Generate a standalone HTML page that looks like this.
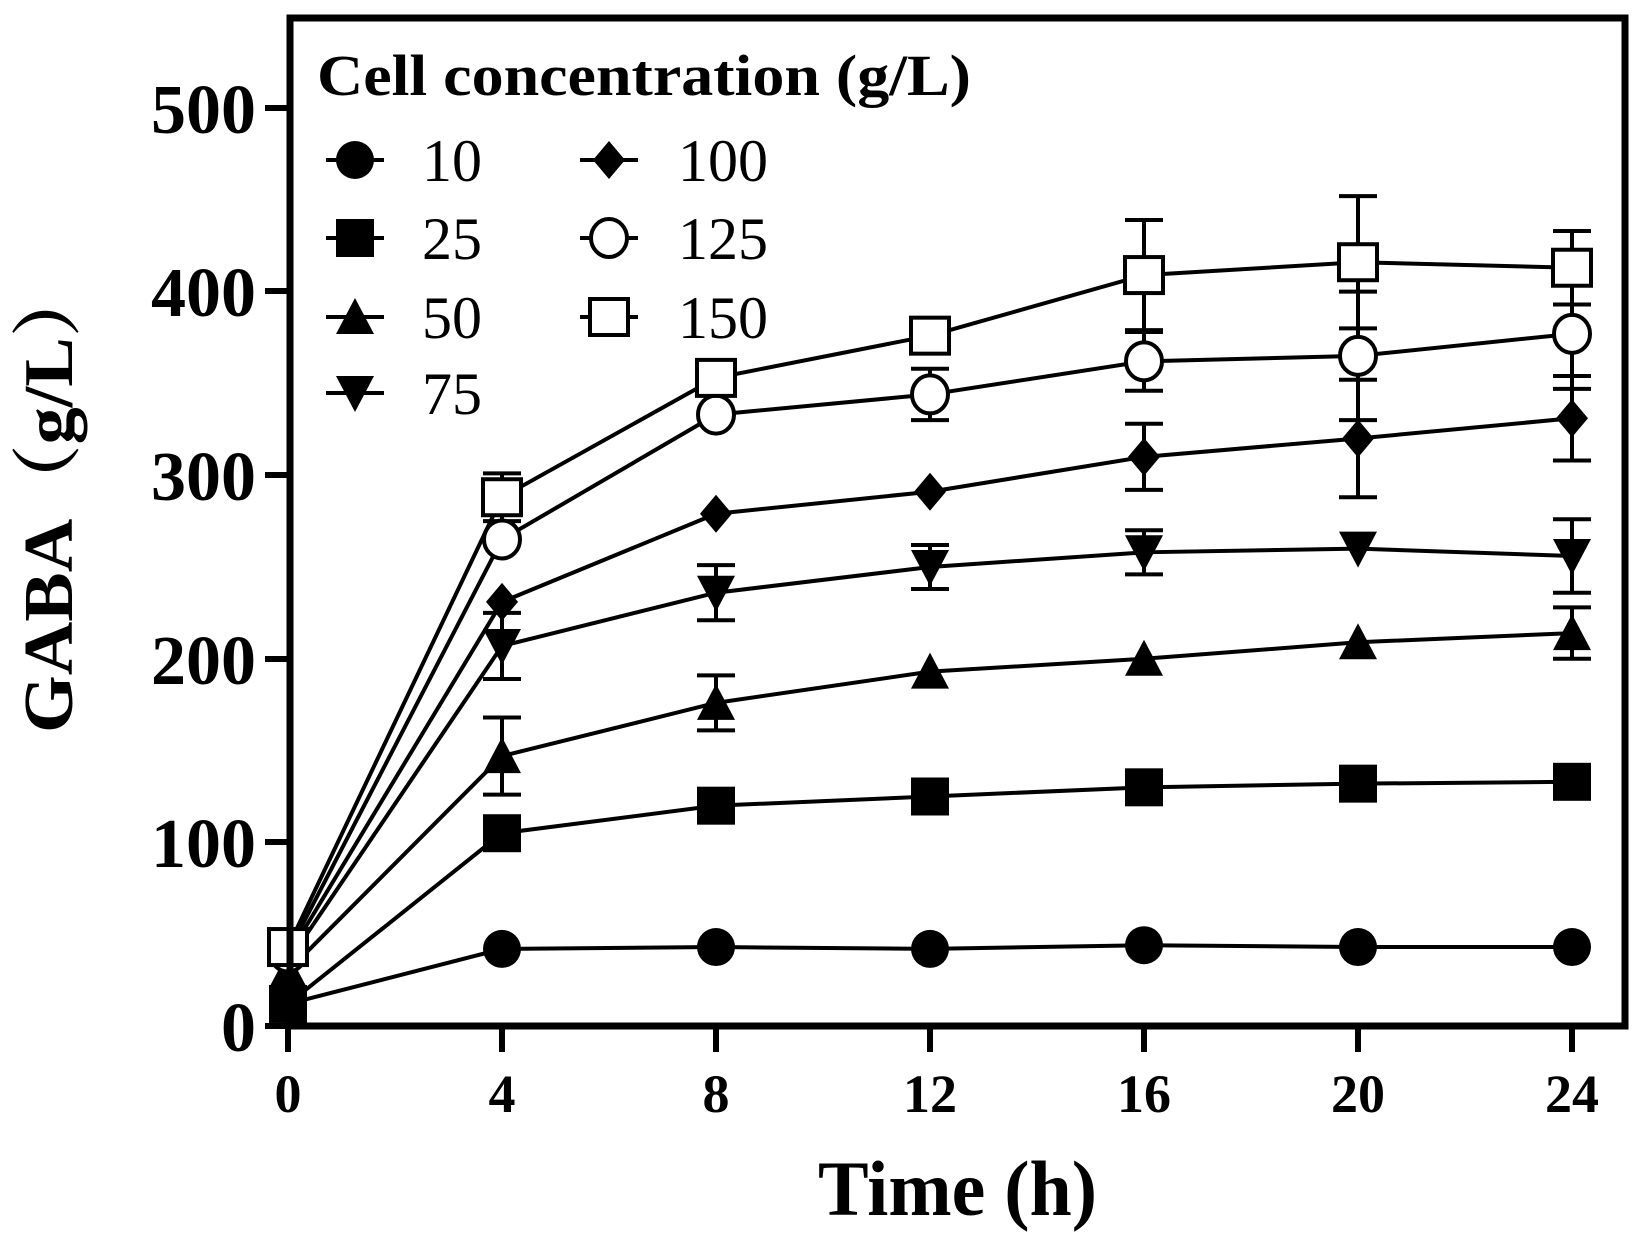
<!DOCTYPE html>
<html><head><meta charset="utf-8"><style>html,body{margin:0;padding:0;background:#fff}svg{display:block}</style></head>
<body>
<svg id="s" width="1642" height="1242" viewBox="0 0 1642 1242" xmlns="http://www.w3.org/2000/svg" font-family="Liberation Serif, serif">
<rect x="0" y="0" width="1642" height="1242" fill="#fff"/>
<g id="data"></g>
<rect x="290" y="18" width="1335" height="1008" fill="none" stroke="#000" stroke-width="7"/>
<g stroke="#000" stroke-width="6">
<line x1="265" y1="1026" x2="290" y2="1026"/><line x1="265" y1="842" x2="290" y2="842"/><line x1="265" y1="659" x2="290" y2="659"/><line x1="265" y1="475" x2="290" y2="475"/><line x1="265" y1="291" x2="290" y2="291"/><line x1="265" y1="108" x2="290" y2="108"/>
<line x1="288" y1="1026" x2="288" y2="1052"/><line x1="502" y1="1026" x2="502" y2="1052"/><line x1="716" y1="1026" x2="716" y2="1052"/><line x1="930" y1="1026" x2="930" y2="1052"/><line x1="1144" y1="1026" x2="1144" y2="1052"/><line x1="1358" y1="1026" x2="1358" y2="1052"/><line x1="1572" y1="1026" x2="1572" y2="1052"/>
</g>
<g font-weight="bold" font-size="70" text-anchor="end">
<text x="256" y="1051">0</text><text x="256" y="867">100</text><text x="256" y="684">200</text><text x="256" y="500">300</text><text x="256" y="316">400</text><text x="256" y="133">500</text>
</g>
<g font-weight="bold" font-size="54" text-anchor="middle">
<text x="288" y="1112">0</text><text x="502" y="1112">4</text><text x="716" y="1112">8</text><text x="930" y="1112">12</text><text x="1144" y="1112">16</text><text x="1358" y="1112">20</text><text x="1572" y="1112">24</text>
</g>
<text x="818" y="1215" font-weight="bold" font-size="78" textLength="279" lengthAdjust="spacingAndGlyphs">Time (h)</text>
<text transform="translate(72,733) rotate(-90)" font-weight="bold" font-size="70" font-family="Liberation Serif, Noto Serif CJK SC, serif" textLength="470" lengthAdjust="spacingAndGlyphs">GABA（g/L）</text>
<text x="317" y="95" font-weight="bold" font-size="58" textLength="654" lengthAdjust="spacingAndGlyphs">Cell concentration (g/L)</text>
<g id="leg"></g>
</svg>
<script>
const NS="http://www.w3.org/2000/svg";
function el(p,t,a){const e=document.createElementNS(NS,t);for(const k in a)e.setAttribute(k,a[k]);p.appendChild(e);return e;}
const X=t=>288+t*53.5, Y=v=>1026-v*1.836;
function marker(g,type,x,y){
 const r=19;
 if(type=='circle')el(g,'circle',{cx:x,cy:y,r:r,fill:'#000'});
 if(type=='square')el(g,'rect',{x:x-r,y:y-r,width:2*r,height:2*r,fill:'#000'});
 if(type=='up')el(g,'polygon',{points:`${x},${y-r} ${x+r},${y+r-2} ${x-r},${y+r-2}`,fill:'#000'});
 if(type=='down')el(g,'polygon',{points:`${x},${y+r} ${x+r},${y-r+2} ${x-r},${y-r+2}`,fill:'#000'});
 if(type=='diamond')el(g,'polygon',{points:`${x},${y-19} ${x+16},${y} ${x},${y+19} ${x-16},${y}`,fill:'#000'});
 if(type=='ocircle')el(g,'ellipse',{cx:x,cy:y,rx:18,ry:19,fill:'#fff',stroke:'#000','stroke-width':4});
 if(type=='osquare')el(g,'rect',{x:x-19,y:y-18,width:38,height:36,fill:'#fff',stroke:'#000','stroke-width':4});
}
const T=[0,4,8,12,16,20,24];
const S=[
 ['circle',[12,42,43,42,44,43,43],[0,0,0,0,0,0,0]],
 ['square',[12,105,120,125,130,132,133],[0,0,0,0,0,0,0]],
 ['up',[30,147,176,193,200,209,214],[0,21,15,0,0,0,14]],
 ['down',[35,207,236,250,258,260,256],[0,18,15,12,12,0,20]],
 ['diamond',[38,231,279,291,310,320,331],[0,0,0,0,18,32,23]],
 ['ocircle',[40,265,333,344,362,365,377],[0,0,0,14,16,35,30]],
 ['osquare',[43,288,353,376,409,416,413],[0,13,0,0,30,36,20]]
];
const g=document.getElementById('data');
S.forEach(([type,v,e])=>{
 e.forEach((d,i)=>{if(d>0){const x=X(T[i]);
  el(g,'line',{x1:x,y1:Y(v[i]+d),x2:x,y2:Y(v[i]-d),stroke:'#000','stroke-width':4});
  el(g,'line',{x1:x-19,y1:Y(v[i]+d),x2:x+19,y2:Y(v[i]+d),stroke:'#000','stroke-width':4});
  el(g,'line',{x1:x-19,y1:Y(v[i]-d),x2:x+19,y2:Y(v[i]-d),stroke:'#000','stroke-width':4});}});
});
S.forEach(([type,v])=>{
 el(g,'polyline',{points:T.map((t,i)=>X(t)+','+Y(v[i])).join(' '),fill:'none',stroke:'#000','stroke-width':4});
 T.forEach((t,i)=>marker(g,type,X(t),Y(v[i])));
});
const L=document.getElementById('leg');
const leg=[['circle','10',355,160,422],['square','25',355,238,422],['up','50',355,317,422],['down','75',355,393,422],
 ['diamond','100',609,160,678],['ocircle','125',609,238,678],['osquare','150',609,317,678]];
leg.forEach(([t,l,x,y,tx])=>{
 el(L,'line',{x1:x-29,y1:y,x2:x+29,y2:y,stroke:'#000','stroke-width':4});
 marker(L,t,x,y);
 const tt=el(L,'text',{x:tx,y:y+21,'font-size':60});tt.textContent=l;
});
</script>
</body></html>
